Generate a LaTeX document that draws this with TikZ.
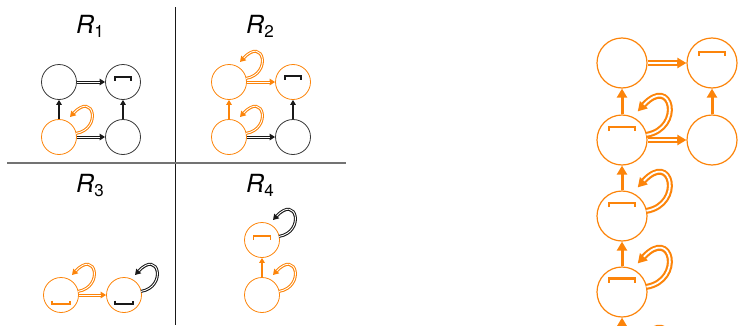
\documentclass[tikz,border=0pt]{standalone}
\usepackage{fontspec}
\setmainfont{TeX Gyre Heros}
\usetikzlibrary{arrows.meta,calc}
\definecolor{org}{RGB}{252,132,10}
\definecolor{blk}{RGB}{25,25,25}
\definecolor{cir}{RGB}{55,55,55}
\definecolor{gry}{RGB}{115,115,115}
\newcommand{\lab}[2]{{\fontsize{25}{25}\selectfont\itshape #1\raisebox{-4pt}{\fontsize{17}{17}\selectfont\upshape #2}}}
% self loop: node, scale, style
\newcommand{\sloop}[3]{\begin{scope}[shift={(#1)},scale=#2]
  \draw[#3] (17.1,3.6) .. controls (43,8) and (35,46) .. (11,20);
\end{scope}}
\begin{document}
\begin{tikzpicture}[x=1pt,y=1pt,
  sn/.style={circle, draw=#1, minimum size=35pt, inner sep=0pt, line width=0.8pt},
  bn/.style={circle, draw=org, minimum size=50pt, inner sep=0pt, line width=1.2pt},
  sv/.style={draw=#1, line width=1.3pt, -{Triangle[length=5pt,width=5.5pt]}},
  sd/.style={draw=#1, line width=3pt, -{Triangle[length=5.5pt,width=6.5pt]},
     postaction={draw=white, line width=0.9pt, -, shorten >=5.5pt}},
  bv/.style={draw=org, line width=3pt, -{Triangle[length=9pt,width=10pt]}},
  bd/.style={draw=org, line width=6pt, -{Triangle[length=9pt,width=10pt]},
     postaction={draw=white, line width=1.8pt, -, shorten >=9pt}},
  sbr/.style={draw=#1, line width=1.5pt},
  bbr/.style={draw=org, line width=2.8pt},
  lbl/.style={anchor=base west, inner sep=0pt}
]
\useasboundingbox (0,0) rectangle (738,325);
\clip (0,0) rectangle (738,325);

% dividers
\draw[blk, line width=0.9pt] (175,318) -- (175,0);
\draw[gry, line width=1.8pt] (7,162) -- (346,162);

% labels
\node[lbl] (l1) at (76,292) {\lab{R}{1}};
\node[lbl] (l2) at (246,292) {\lab{R}{2}};
\node[lbl] (l3) at (76,133) {\lab{R}{3}};
\node[lbl] (l4) at (246,133) {\lab{R}{4}};

% ---------- R1 ----------
\node[sn=cir] (a1) at (59,243) {};
\node[sn=cir] (a2) at (123,243) {};
\node[sn=org] (a3) at (59,188) {};
\node[sn=cir] (a4) at (123,188) {};
\draw[sbr=blk] ($(a2)+(-8,1.5)$) -- ++(0,3.5) -- ++(16,0) -- ++(0,-3.5);
\draw[sd=blk] (a1) -- (a2);
\draw[sd=blk] (a3) -- (a4);
\draw[sv=blk] (a3) -- (a1);
\draw[sv=blk] (a4) -- (a2);
\sloop{a3}{1}{sd=org}

% ---------- R2 ----------
\node[sn=org] (b1) at (229,243) {};
\node[sn=org] (b2) at (293,243) {};
\node[sn=org] (b3) at (229,188) {};
\node[sn=cir] (b4) at (293,188) {};
\draw[sbr=blk] ($(b2)+(-8,2.5)$) -- ++(0,3.5) -- ++(16,0) -- ++(0,-3.5);
\draw[sd=org] (b1) -- (b2);
\draw[sd=blk] (b3) -- (b4);
\draw[sv=org] (b3) -- (b1);
\draw[sv=blk] (b4) -- (b2);
\sloop{b1}{1}{sd=org}
\sloop{b3}{1}{sd=org}

% ---------- R3 ----------
\node[sn=org] (c1) at (61,30) {};
\node[sn=org] (c2) at (124,30) {};
\draw[sbr=org] ($(c1)+(-9,-5.5)$) -- ++(0,-3.5) -- ++(18,0) -- ++(0,3.5);
\draw[sbr=blk] ($(c2)+(-9,-5.5)$) -- ++(0,-3.5) -- ++(18,0) -- ++(0,3.5);
\draw[sd=org] (c1) -- (c2);
\sloop{c1}{1}{sd=org}
\sloop{c2}{1}{sd=blk}

% ---------- R4 ----------
\node[sn=org] (d1) at (262,85) {};
\node[sn=org] (d2) at (262,30) {};
\draw[sbr=org] ($(d1)+(-8.5,0.5)$) -- ++(0,3.5) -- ++(17,0) -- ++(0,-3.5);
\draw[sv=org] (d2) -- (d1);
\sloop{d1}{1}{sd=blk}
\sloop{d2}{1}{sd=org}

% ---------- right chain ----------
\node[bn] (e1) at (622,262) {};
\node[bn] (e2) at (712,262) {};
\node[bn] (e3) at (622,185) {};
\node[bn] (e4) at (712,185) {};
\node[bn] (e5) at (622,109) {};
\node[bn] (e6) at (622,33) {};
\node[bn] (e7) at (622,-47) {};
\draw[bbr] ($(e2)+(-13,7)$) -- ++(0,4) -- ++(26,0) -- ++(0,-4);
\draw[bbr] ($(e3)+(-13,9)$) -- ++(0,4) -- ++(26,0) -- ++(0,-4);
\draw[bbr] ($(e5)+(-13,9)$) -- ++(0,4) -- ++(26,0) -- ++(0,-4);
\draw[bbr] ($(e6)+(-13,9.5)$) -- ++(0,4) -- ++(26,0) -- ++(0,-4);
\draw[bd] (e1) -- (e2);
\draw[bd] (e3) -- (e4);
\draw[bv] (e3) -- (e1);
\draw[bv] (e4) -- (e2);
\draw[bv] (e5) -- (e3);
\draw[bv] (e6) -- (e5);
\draw[bv] (e7) -- (e6);
\sloop{e3}{1.43}{bd}
\sloop{e5}{1.43}{bd}
\sloop{e6}{1.43}{bd}
\sloop{e7}{1.43}{bd}
\end{tikzpicture}
\end{document}
